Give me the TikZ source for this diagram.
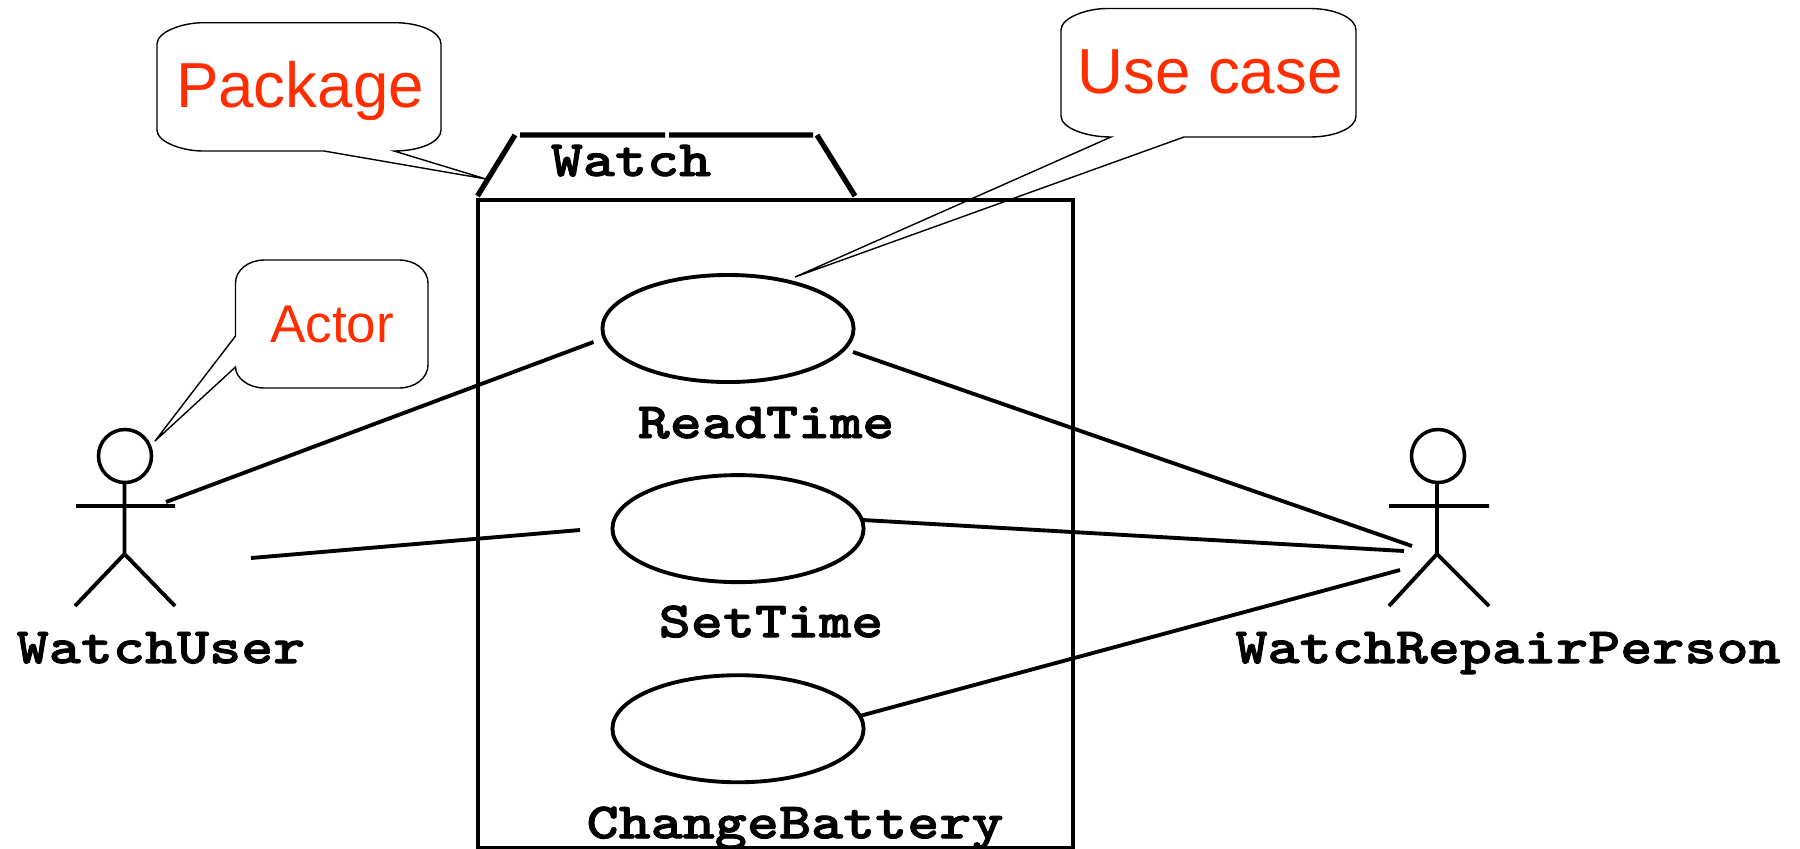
\documentclass[tikz,border=0pt]{standalone}
\usepackage{fontspec}
\setmainfont{Liberation Sans}
\setmonofont[FakeStretch=1.198,BoldFeatures={FakeBold=1.6}]{Latin Modern Mono Light}
\usepackage{tikz}
\usetikzlibrary{positioning, shapes.geometric}
\definecolor{notered}{HTML}{FF2D00}
\tikzset{
	usecase/.style={ellipse,draw,line width=1.1pt,inner sep=0pt,outer sep=0pt,minimum width=2.51cm,minimum height=1.07cm},
	head/.style={ellipse,draw,line width=1pt,inner sep=0pt,outer sep=0pt,minimum width=.53cm,minimum height=.53cm},
	umllabel/.style={inner sep=0pt,text height=.31cm,text depth=.09cm,font=\fontsize{14.5}{16}\selectfont\ttfamily\bfseries},
	note/.style={inner sep=0pt,anchor=base,text=notered,font=\fontsize{18.1}{20}\selectfont},
	callout/.style={draw,line width=.4pt},
	assoc/.style={draw,line width=1.1pt},
	tabline/.style={draw,line width=1.5pt}
}
\begin{document}
\begin{tikzpicture}[x=.01cm,y=-.01cm,on grid]
	\useasboundingbox (0,0) rectangle (1800,848);
	% package
	\node[draw,line width=1.1pt,inner sep=0pt,outer sep=0pt,minimum width=5.95cm,minimum height=6.48cm] (watch) at (775.5,524) {};
	\path[tabline] (477.5,196) -- (515,135)
		(520,135) -- (665,135)
		(669,135) -- (813,135)
		(817,135) -- (855,196);
	\node[umllabel] (watchname) at (631,165) {Watch};
	% use cases
	\node[usecase] (read) at (728,328.5) {};
	\node[usecase] (set) [below right=2cm and .1cm of read] {};
	\node[usecase] (battery) [below=2cm of set] {};
	\node[umllabel] (readname) [below right=.985cm and .38cm of read] {ReadTime};
	\node[umllabel] (setname) [below right=.975cm and .33cm of set] {SetTime};
	\node[umllabel] (batteryname) [below right=.985cm and .57cm of battery] {ChangeBattery};
	% actors
	\node[head] (user) at (125,456) {};
	\coordinate (userhip) at (124.5,554);
	\coordinate (userarml) at (76,506);
	\coordinate (userarmr) at (175,506);
	\coordinate (userlegl) at (75,606);
	\coordinate (userlegr) at (175,606);
	\path[assoc] (user.south -| userhip) -- (userhip) -- (userlegl)
		(userhip) -- (userlegr)
		(userarml) -- (userarmr);
	\node[umllabel] (username) [below right=1.96cm and .36cm of user] {WatchUser};
	\node[head] (repair) at (1438,456) {};
	\coordinate (repairhip) at (1437,554);
	\coordinate (repairarml) at (1389,506);
	\coordinate (repairarmr) at (1489,506);
	\coordinate (repairlegl) at (1389,606);
	\coordinate (repairlegr) at (1489,606);
	\path[assoc] (repair.south -| repairhip) -- (repairhip) -- (repairlegl)
		(repairhip) -- (repairlegr)
		(repairarml) -- (repairarmr);
	\node[umllabel] (repairname) [below right=1.96cm and .70cm of repair] {WatchRepairPerson};
	% associations
	\coordinate (u1) at (166,502);
	\coordinate (u2) at (251,558);
	\coordinate (u3) at (593.5,342);
	\coordinate (u4) at (580,530);
	\coordinate (r0) at (853,352);
	\coordinate (r1) at (1412,546);
	\coordinate (r2) at (1404,551);
	\coordinate (r3) at (1400,570);
	\path[assoc] (u1) -- (u3)
		(u2) -- (u4)
		(r0) -- (r1)
		(set.4) -- (r2)
		(battery.6) -- (r3);
	% notes
	\path[callout] (157,44) .. controls (157,32) and (182,22.7) .. (203,22.7) -- (395,22.7)
		.. controls (420,22.7) and (441,32) .. (441,44) -- (441,130)
		.. controls (441,142) and (420,151) .. (394,151) -- (486,179) -- (324,151) -- (203,151)
		.. controls (182,151) and (157,142) .. (157,130) -- cycle;
	\node[note] (packagenote) at (300,107) {Package};
	\path[callout] (1061,30) .. controls (1061,18) and (1086,8.5) .. (1107,8.5) -- (1310,8.5)
		.. controls (1335,8.5) and (1356,18) .. (1356,30) -- (1356,116)
		.. controls (1356,128) and (1335,137) .. (1310,137) -- (1184,137) -- (795,277) -- (1111,137)
		.. controls (1086,137) and (1061,128) .. (1061,116) -- cycle;
	\node[note] (usecasenote) at (1210,93) {Use case};
	\path[callout] (235.5,283) .. controls (235.5,270) and (248.5,260) .. (264.5,260) -- (399,260)
		.. controls (415,260) and (428,270) .. (428,283) -- (428,365)
		.. controls (428,378) and (415,388) .. (399,388) -- (264.5,388)
		.. controls (248.5,388) and (235.5,378) .. (235.5,367) -- (155,441) -- (235.5,336) -- cycle;
	\node[note,font=\fontsize{15.1}{17}\selectfont] (actornote) at (332,342) {Actor};
\end{tikzpicture}
\end{document}
